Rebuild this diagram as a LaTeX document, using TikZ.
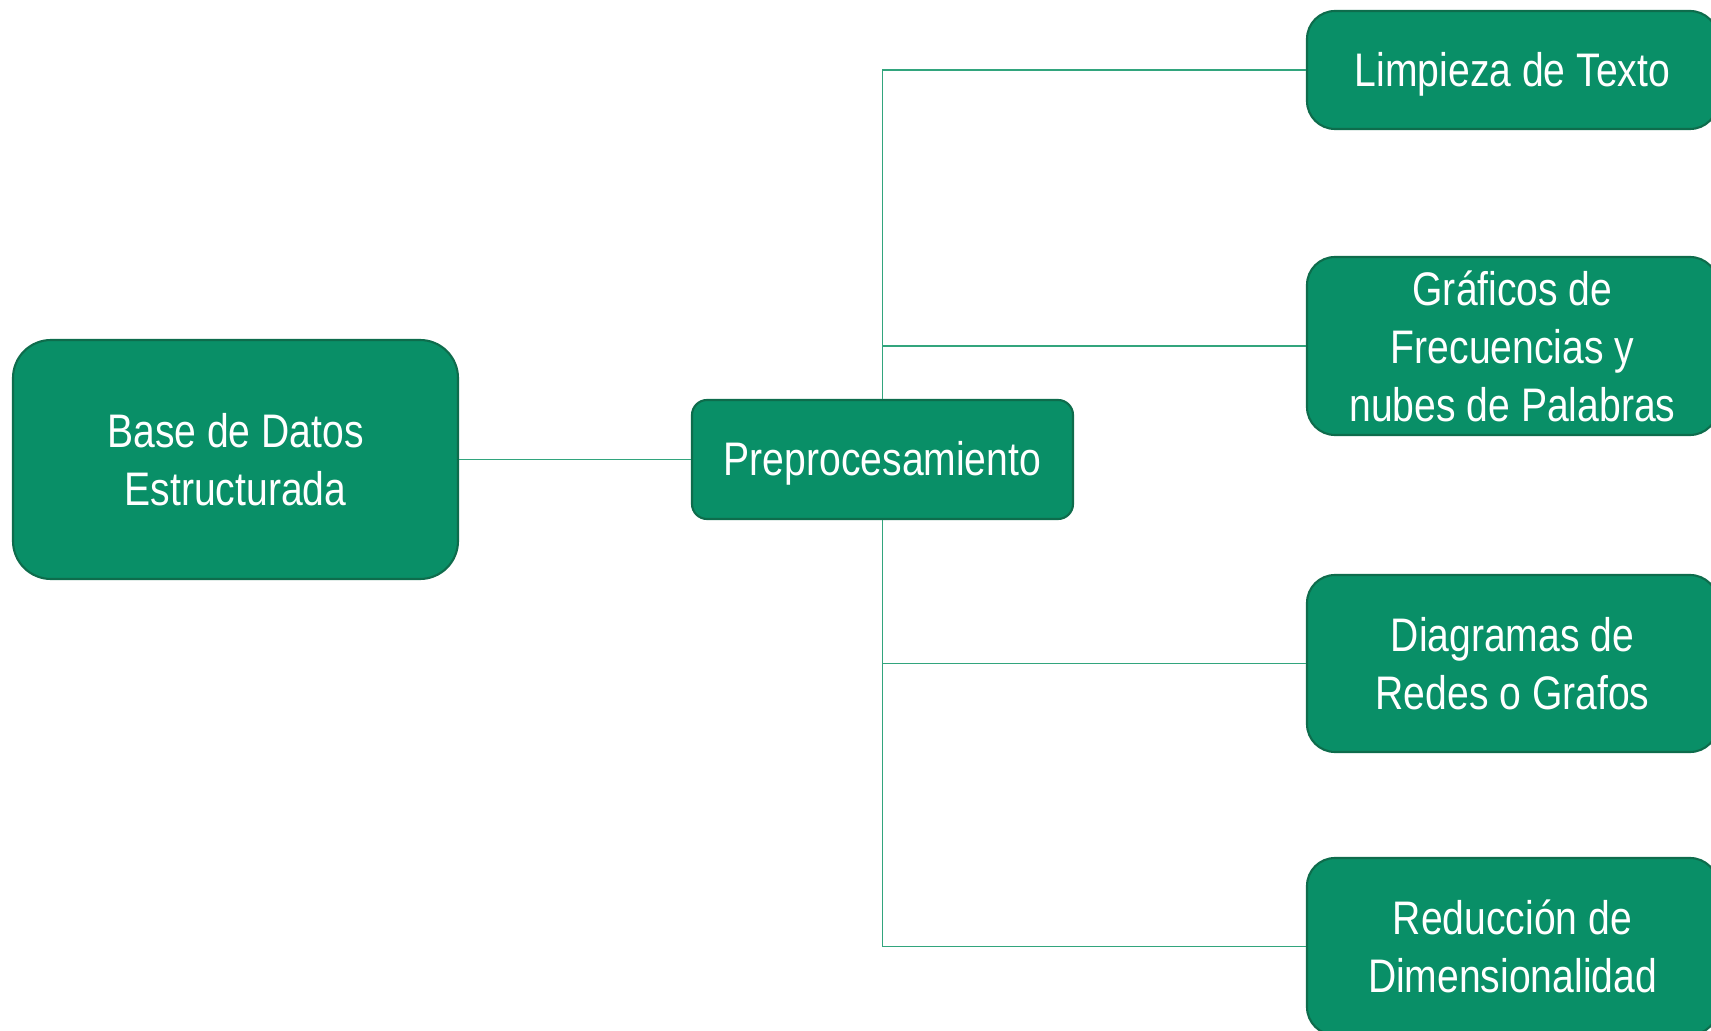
\documentclass[tikz,border=0pt]{standalone}
\usepackage{fontspec}
\setmainfont[FakeStretch=0.83]{Liberation Sans}
\definecolor{boxgreen}{RGB}{9,143,103}
\definecolor{edgegreen}{RGB}{14,108,76}
\definecolor{linegreen}{RGB}{50,165,125}
\tikzset{
	box/.style={draw=edgegreen,line width=0.6pt,fill=boxgreen,text=white,align=center,
		font=\fontsize{13.4}{16.5}\selectfont,inner sep=0pt,rounded corners=#1,
		execute at begin node=\rule{0pt}{0.9em}},
	box/.default=0.28cm,
	link/.style={draw=linegreen,line width=0.45pt}
}
\begin{document}
\begin{tikzpicture}
	\useasboundingbox (0,0) rectangle (17.11,10.30);
	% main chain
	\node[box=0.38cm,minimum width=4.45cm,minimum height=2.39cm] (base) at (2.355,5.705) {Base de Datos\\Estructurada};
	\node[box=0.15cm,minimum width=3.81cm,minimum height=1.19cm] (prep) at (8.825,5.705) {Preprocesamiento};
	% branches
	\node[box,minimum width=4.11cm,minimum height=1.18cm] (limp) at (15.125,9.60) {Limpieza de Texto};
	\node[box,minimum width=4.11cm,minimum height=1.78cm] (graf) at (15.125,6.84) {Gráficos de\\Frecuencias y\\nubes de Palabras};
	\node[box,minimum width=4.11cm,minimum height=1.77cm] (diag) at (15.125,3.665) {Diagramas de\\Redes o Grafos};
	\node[box,minimum width=4.11cm,minimum height=1.77cm] (redu) at (15.125,0.835) {Reducción de\\Dimensionalidad};
	\draw[link] (base.east) -- (prep.west);
	\draw[link] (prep.north) |- (limp.west);
	\draw[link] (prep.north) |- (graf.west);
	\draw[link] (prep.south) |- (diag.west);
	\draw[link] (prep.south) |- (redu.west);
\end{tikzpicture}
\end{document}
